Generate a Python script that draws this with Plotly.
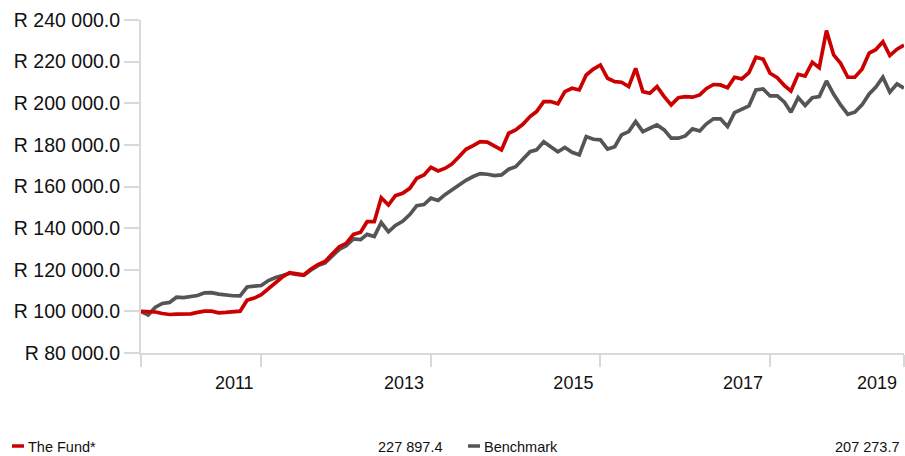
import plotly.graph_objects as go
import pandas as pd

dates = pd.date_range("2010-06-30", periods=109, freq="ME")

fund = [100000, 99900, 99700, 99000, 98500, 98700, 98700, 98800, 99500, 100100,
        100100, 99300, 99500, 99700, 100100, 105400, 106400, 108000, 110800, 114000,
        116500, 118600, 117900, 117500, 120300, 122500, 124000, 127300, 131100, 132700,
        137000, 138000, 143100, 143100, 154600, 151100, 155600, 156700, 159100, 164000,
        165500, 169200, 167500, 168800, 170800, 174300, 177900, 179600, 181500, 181300,
        179500, 177600, 185600, 187200, 189900, 193600, 196000, 200800, 200800, 199700,
        205600, 207200, 206400, 213600, 216400, 218400, 212000, 210400, 210100, 208000,
        216800, 205600, 204800, 208000, 203200, 199200, 202700, 203200, 202900, 204000,
        207000, 209000, 208800, 207500, 212500, 211700, 214700, 222100, 221200, 214400,
        212300, 208500, 205900, 213900, 213100, 219700, 217100, 234900, 223200, 219200,
        212500, 212500, 216400, 224100, 225700, 229600, 222900, 226000, 227897.4]

benchmark = [100000, 98300, 102000, 103800, 104300, 106800, 106600, 107000, 107600, 108900,
             109000, 108300, 107700, 107500, 107400, 111700, 112100, 112400, 114800, 116300,
             117200, 118300, 117700, 117300, 119800, 122000, 123300, 126800, 129800, 131500,
             134800, 134500, 137000, 136000, 142700, 138200, 141300, 143300, 146500, 150800,
             151300, 154400, 153300, 156200, 158500, 161000, 163000, 164800, 166200, 165900,
             165200, 165600, 168300, 169500, 173300, 176700, 177600, 181500, 179100, 176700,
             178800, 176400, 175200, 184000, 182700, 182400, 178000, 179100, 184800, 186400,
             191200, 186400, 188000, 189600, 187200, 183200, 183200, 184300, 187700, 186700,
             190000, 192500, 192500, 188800, 195500, 197100, 198700, 206400, 206900, 203500,
             203500, 200500, 195700, 202700, 198900, 202700, 203200, 210700, 204300, 199200,
             194700, 195700, 199200, 204500, 207700, 212500, 205300, 209300, 207273.7]

series_names = ["The Fund*", "Benchmark"]
series_colors = ["#cc0000", "#555555"]

y_ticks = [80000, 100000, 120000, 140000, 160000, 180000, 200000, 220000, 240000]
x_tick_idx = [0, 17, 41, 65, 89, 108]
x_tick_labels = ["", "2011", "2013", "2015", "2017", "2019"]


def fmt(v):
    return f"{v:,.1f}".replace(",", " ")


FONT = "Liberation Sans, Arial, sans-serif"
AXIS_GRAY = "#d9d9d9"

fig = go.Figure()
fig.add_trace(go.Scatter(x=dates, y=benchmark, mode="lines", name=series_names[1],
                         line=dict(color=series_colors[1], width=3.7), showlegend=False))
fig.add_trace(go.Scatter(x=dates, y=fund, mode="lines", name=series_names[0],
                         line=dict(color=series_colors[0], width=3.7), showlegend=False))

fig.update_layout(
    width=905, height=456,
    margin=dict(l=141, r=1, t=20, b=103),
    paper_bgcolor="white", plot_bgcolor="white",
    font=dict(family=FONT, color="#111111"),
)
fig.update_yaxes(
    range=[80000, 240000], tickvals=y_ticks, ticktext=["R " + fmt(v) for v in y_ticks],
    showgrid=False, zeroline=False, showline=True, linecolor=AXIS_GRAY, linewidth=2,
    ticks="outside", ticklen=15, tickwidth=2, tickcolor=AXIS_GRAY,
    tickfont=dict(size=19.5, family=FONT, color="#111111"),
)
fig.update_xaxes(
    type="date", range=[dates[0], dates[-1]],
    tickvals=[dates[i] for i in x_tick_idx], ticktext=x_tick_labels,
    showgrid=False, zeroline=False, showline=True, linecolor=AXIS_GRAY, linewidth=2,
    ticks="outside", ticklen=12, tickwidth=2, tickcolor=AXIS_GRAY,
    tickfont=dict(size=18, family=FONT, color="#111111"),
    ticklabelshift=-27,
)

# legend row at the bottom (pixel positions mapped to paper coordinates)
legend_items = [
    (series_names[0], series_colors[0], fund[-1], 12, 445),
    (series_names[1], series_colors[1], benchmark[-1], 468, 902),
]
for name, color, last, x0, xr in legend_items:
    fig.add_shape(type="line", xref="paper", yref="paper",
                  x0=(x0 - 141) / 763, x1=(x0 + 12 - 141) / 763,
                  y0=(353 - 446) / 333, y1=(353 - 446) / 333,
                  line=dict(color=color, width=3.5))
    fig.add_annotation(text=name, xref="paper", yref="paper",
                       x=(x0 + 14 - 141) / 763, y=(353 - 447) / 333,
                       xanchor="left", yanchor="middle", showarrow=False,
                       font=dict(size=14.5, family=FONT, color="#111111"))
    fig.add_annotation(text=fmt(last), xref="paper", yref="paper",
                       x=(xr - 141) / 763, y=(353 - 447) / 333,
                       xanchor="right", yanchor="middle", showarrow=False,
                       font=dict(size=14.5, family=FONT, color="#111111"))

fig.write_html(
    "out.html",
    config={"displayModeBar": False},
    post_script="document.body.style.margin='0';document.body.style.overflow='hidden';",
)
